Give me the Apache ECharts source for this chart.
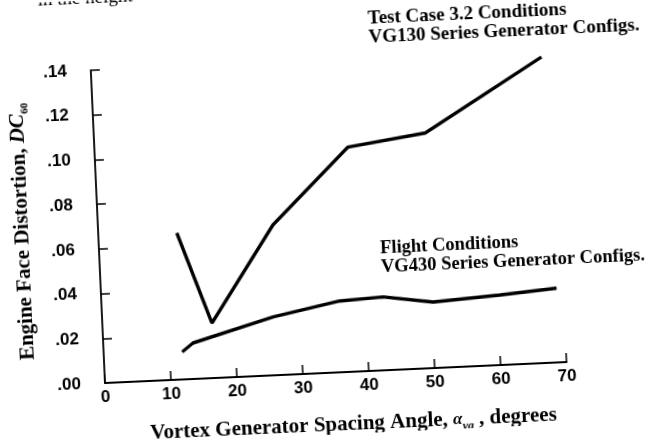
<!DOCTYPE html>
<html>
<head>
<meta charset="utf-8">
<script src="https://cdn.jsdelivr.net/npm/echarts@6/dist/echarts.min.js"></script>
<style>
  html, body { margin: 0; padding: 0; background: #fff; overflow: hidden; }
  #chart { width: 655px; height: 445px; transform: rotate(-2.6deg); transform-origin: 105px 383px; }
</style>
</head>
<body>
<div id="chart"></div>
<script>
// Data
const testCaseX = [11.9, 16.6, 26.5, 38.4, 50.2, 68.3];
const testCaseY = [0.0656, 0.0246, 0.0672, 0.1005, 0.1052, 0.1368];
const flightX = [11.9, 13.6, 25.9, 36.1, 42.7, 50.2, 60.4, 69.0];
const flightY = [0.0123, 0.0161, 0.0261, 0.0319, 0.0328, 0.0295, 0.0313, 0.0332];
const xTickLabels = ['0', '10', '20', '30', '40', '50', '60', '70'];
const yTickLabels = ['.00', '.02', '.04', '.06', '.08', '.10', '.12', '.14'];
const testCaseLabel = 'Test Case 3.2 Conditions\nVG130 Series Generator Configs.';
const flightLabel = 'Flight Conditions\nVG430 Series Generator Configs.';

const chart = echarts.init(document.getElementById('chart'), null, { renderer: 'canvas' });
const serif = '"Liberation Serif", "DejaVu Serif", serif';
const sans = '"Liberation Sans", Arial, sans-serif';

const option = {
  animation: false,
  backgroundColor: '#fff',
  grid: { left: 105, top: 70, width: 462, height: 313, containLabel: false, outerBoundsMode: 'none' },
  xAxis: {
    type: 'value', min: 0, max: 70, interval: 10,
    axisLine: { lineStyle: { color: '#000', width: 1.8 } },
    axisTick: { inside: true, length: 9, lineStyle: { color: '#000', width: 1.5 } },
    axisLabel: {
      color: '#000', fontFamily: sans, fontWeight: 'bold', fontSize: 17, margin: 6,
      formatter: (v) => xTickLabels[Math.round(v / 10)]
    },
    splitLine: { show: false }
  },
  yAxis: {
    type: 'value', min: 0, max: 0.14, interval: 0.02,
    axisLine: { show: true, lineStyle: { color: '#000', width: 1.8 } },
    axisTick: { show: true, inside: true, length: 9, lineStyle: { color: '#000', width: 1.5 } },
    axisLabel: {
      color: '#000', fontFamily: sans, fontWeight: 'bold', fontSize: 17, margin: 24,
      formatter: (v) => yTickLabels[Math.round(v / 0.02)]
    },
    splitLine: { show: false }
  },
  series: [
    {
      name: 'Test Case 3.2', type: 'line', showSymbol: false, smooth: false,
      lineStyle: { color: '#000', width: 3.4 },
      data: testCaseX.map((x, i) => [x, testCaseY[i]])
    },
    {
      name: 'Flight', type: 'line', showSymbol: false, smooth: false,
      lineStyle: { color: '#000', width: 3.4 },
      data: flightX.map((x, i) => [x, flightY[i]])
    }
  ],
  graphic: [
    {
      type: 'text', x: 30, y: 228, rotation: Math.PI / 2,
      style: {
        text: '{n|Engine Face Distortion, }{i|DC}{s|60}',
        align: 'center', verticalAlign: 'middle',
        rich: {
          n: { fontFamily: serif, fontWeight: 'bold', fontSize: 21, fill: '#000', lineHeight: 26 },
          i: { fontFamily: serif, fontWeight: 'bold', fontStyle: 'italic', fontSize: 21, fill: '#000', lineHeight: 26 },
          s: { fontFamily: serif, fontWeight: 'bold', fontSize: 11, fill: '#000', lineHeight: 20, verticalAlign: 'bottom' }
        }
      }
    },
    {
      type: 'text', x: 148, y: 423,
      style: {
        text: '{n|Vortex Generator Spacing Angle, }{a|α}{s|vg}{n| , degrees}',
        align: 'left', verticalAlign: 'top',
        rich: {
          n: { fontFamily: serif, fontWeight: 'bold', fontSize: 21, fill: '#000', lineHeight: 26 },
          a: { fontFamily: serif, fontWeight: 'bold', fontStyle: 'italic', fontSize: 17, fill: '#000', lineHeight: 26 },
          s: { fontFamily: serif, fontWeight: 'bold', fontStyle: 'italic', fontSize: 12, fill: '#000', lineHeight: 20, verticalAlign: 'bottom' }
        }
      }
    },
    {
      type: 'text', x: 384, y: 22,
      style: { text: testCaseLabel, fontFamily: serif, fontWeight: 'bold', fontSize: 19, lineHeight: 19, fill: '#000' }
    },
    {
      type: 'text', x: 386, y: 252,
      style: { text: flightLabel, fontFamily: serif, fontWeight: 'bold', fontSize: 18.5, lineHeight: 19, fill: '#000' }
    },
    {
      type: 'text', x: 55, y: 8,
      style: { text: 'in the height', fontFamily: serif, fontSize: 19, fill: '#000', verticalAlign: 'bottom' }
    }
  ]
};
chart.setOption(option);
</script>
</body>
</html>
